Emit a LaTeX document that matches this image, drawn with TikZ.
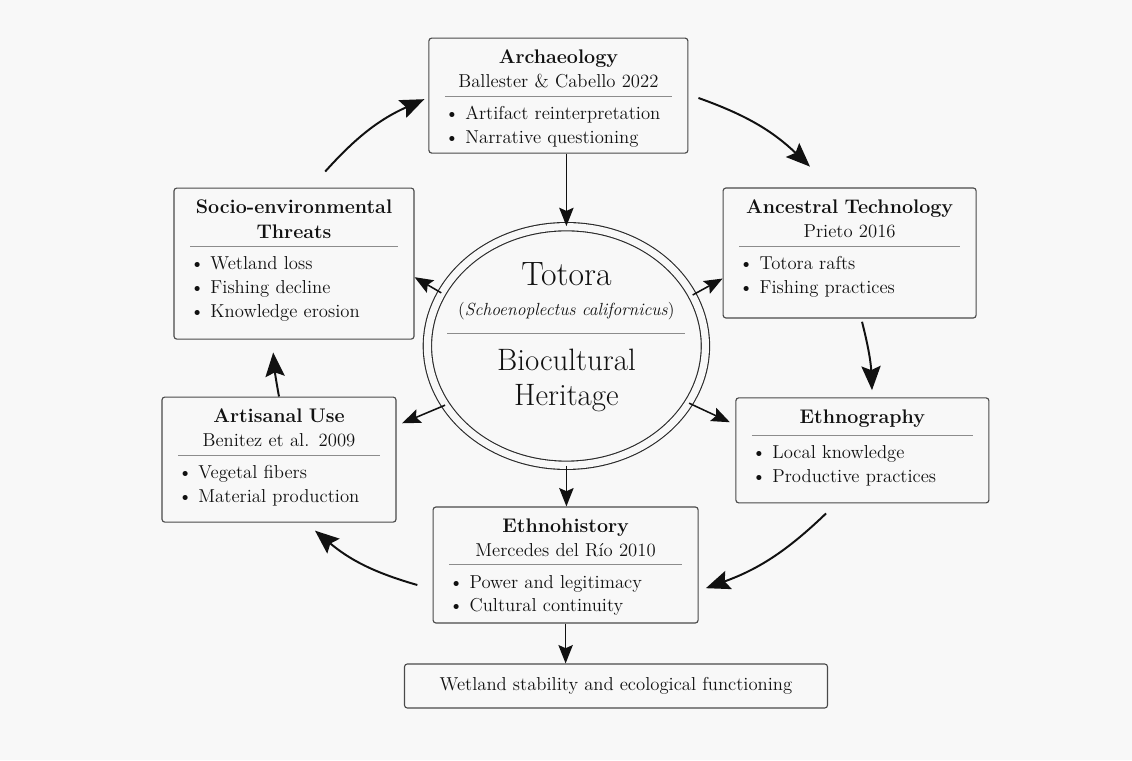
\documentclass[tikz,border=0pt]{standalone}
\usepackage{fontspec}
\usepackage{xcolor}
\usetikzlibrary{positioning,arrows.meta,shapes.geometric}
\definecolor{bggray}{HTML}{F8F8F8}
\definecolor{ink}{HTML}{111111}
\definecolor{edgegray}{HTML}{4A4A4A}
\definecolor{rulegray}{HTML}{8C8C8C}
\definecolor{hubgray}{HTML}{2A2A2A}
\newcommand{\cardtitle}{\fontsize{14}{17.5}\selectfont\bfseries}
\newcommand{\cardbody}[3]{%
  {\centering{\cardtitle #1\par}#2\par}%
  \vspace{5.5pt}{\color{rulegray}\hrule height 0.6pt}\vspace{7pt}%
  {\raggedright #3\par}}

\begin{document}
\begin{tikzpicture}[font=\fontsize{13.3}{17}\selectfont, color=ink,
      >={Stealth[length=4.6mm, width=3.6mm, inset=0.8mm]},
      card/.style={draw=edgegray, line width=0.8pt, rounded corners=2pt, inner sep=0pt},
      cardtxt/.style={inner sep=0pt},
      link/.style={->, line width=1.1pt},
      cyc/.style={->, line width=1.4pt, >={Stealth[length=6mm, width=4.8mm, inset=1mm]}, bend left=12}]
    \fill[bggray] (0,0) rectangle (28.3,19);
    % central hub
    \node[ellipse, draw=hubgray, line width=0.8pt, double=bggray, double distance=5.1pt,
          minimum width=6.95cm, minimum height=5.965cm, inner sep=0pt] (hub) at (14.16,10.35) {};
    \coordinate (hubsep) at ([yshift=0.325cm]hub.center);
    \draw[rulegray, line width=0.6pt] ([xshift=-2.975cm]hubsep) -- ([xshift=2.975cm]hubsep);
    \node[inner sep=0pt, above=0.31cm of hubsep, font=\fontsize{12.5}{15}\selectfont] (hubsci)
        {(\textit{Schoenoplectus californicus})};
    \node[inner sep=0pt, above=0.42cm of hubsci, font=\fontsize{24}{28}\selectfont] (hubname) {Totora};
    \node[inner sep=0pt, below=0.39cm of hubsep, align=center, font=\fontsize{22}{25}\selectfont] (hubbot)
        {Biocultural\\Heritage};
    % cards
    \node[card, minimum width=6.475cm, minimum height=2.875cm] (arch) at (13.96,16.61) {};
    \node[cardtxt, text width=5.675cm, below=0.3cm of arch.north] (archtxt)
        {\cardbody{Archaeology}{Ballester \& Cabello 2022}{\textbullet\ Artifact reinterpretation\\\textbullet\ Narrative questioning}};
    \node[card, minimum width=6.325cm, minimum height=3.25cm] (anc) at (21.24,12.675) {};
    \node[cardtxt, text width=5.525cm, below=0.3cm of anc.north] (anctxt)
        {\cardbody{Ancestral Technology}{Prieto 2016}{\textbullet\ Totora rafts\\\textbullet\ Fishing practices}};
    \node[card, minimum width=6.325cm, minimum height=2.625cm] (ethg) at (21.56,7.74) {};
    \node[cardtxt, text width=5.525cm, below=0.3cm of ethg.north] (ethgtxt)
        {\cardbody{Ethnography}{}{\textbullet\ Local knowledge\\\textbullet\ Productive practices}};
    \node[card, minimum width=6.625cm, minimum height=2.9cm] (ethh) at (14.14,4.875) {};
    \node[cardtxt, text width=5.825cm, below=0.3cm of ethh.north] (ethhtxt)
        {\cardbody{Ethnohistory}{Mercedes del Río 2010}{\textbullet\ Power and legitimacy\\\textbullet\ Cultural continuity}};
    \node[card, minimum width=5.85cm, minimum height=3.125cm] (art) at (6.975,7.51) {};
    \node[cardtxt, text width=5.05cm, below=0.3cm of art.north] (arttxt)
        {\cardbody{Artisanal Use}{Benitez et al. 2009}{\textbullet\ Vegetal fibers\\\textbullet\ Material production}};
    \node[card, minimum width=6.0cm, minimum height=3.775cm] (socio) at (7.35,12.41) {};
    \node[cardtxt, text width=5.2cm, below=0.3cm of socio.north] (sociotxt)
        {\cardbody{Socio-environmental\\Threats}{}{\textbullet\ Wetland loss\\\textbullet\ Fishing decline\\\textbullet\ Knowledge erosion}};
    \node[card, minimum width=10.575cm, minimum height=1.1cm] (wetland) at (15.4,1.85)
        {Wetland stability and ecological functioning};
    % hub links
    \draw[link] (hub.north |- arch.south) -- (hub.north);
    \draw[link] (hub.22) -- ([yshift=1cm]anc.south west);
    \draw[link] (hub.157) -- ([yshift=-0.34cm]socio.east);
    \draw[link, shorten >=1.5mm] (hub.206) -- ([yshift=0.85cm]art.east);
    \draw[link, shorten >=1.5mm] (hub.335) -- ([yshift=0.64cm]ethg.west);
    \draw[link] (hub.south) -- (hub.south |- ethh.north);
    \draw[link] (ethh.south) -- (ethh.south |- wetland.north);
    % cycle
    \draw[cyc] ([shift={(0.25cm,-0.06cm)}]arch.east) to ([shift={(-0.99cm,0.52cm)}]anc.north);
    \draw[cyc, bend left=6] ([shift={(0.31cm,-0.08cm)}]anc.south) to ([shift={(0.24cm,0.18cm)}]ethg.north);
    \draw[cyc] ([shift={(-0.91cm,-0.25cm)}]ethg.south) to ([shift={(0.18cm,-0.58cm)}]ethh.east);
    \draw[cyc] ([shift={(-0.38cm,-0.5cm)}]ethh.west) to ([shift={(0.9cm,-0.2cm)}]art.south);
    \draw[cyc, bend left=3] (art.north) to ([shift={(-0.52cm,-0.32cm)}]socio.south);
    \draw[cyc] ([shift={(0.78cm,0.4cm)}]socio.north) to ([shift={(-0.1cm,-0.09cm)}]arch.west);
\end{tikzpicture}
\end{document}
